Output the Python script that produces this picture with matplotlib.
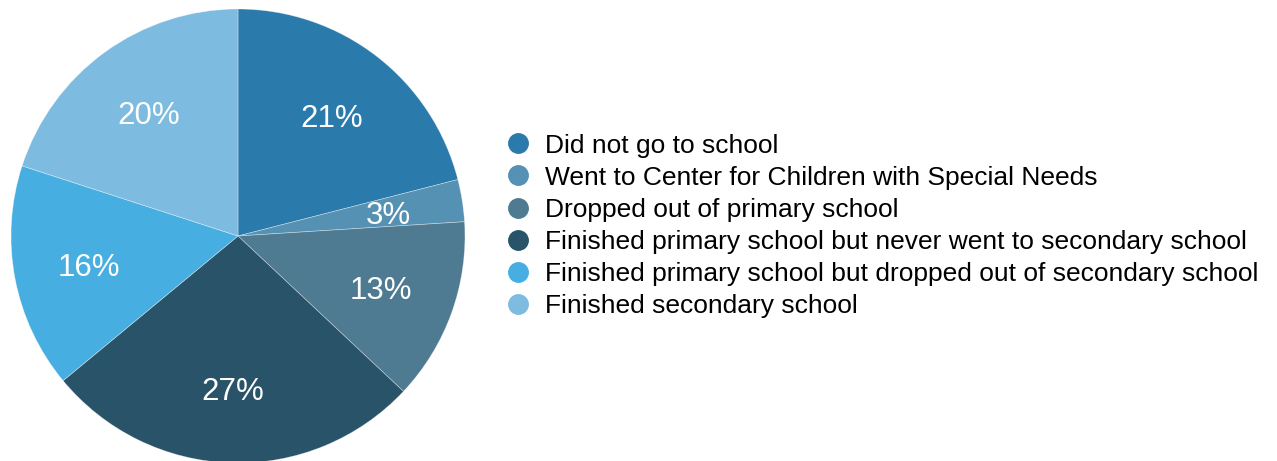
import matplotlib.pyplot as plt
from matplotlib.lines import Line2D

labels = ['Did not go to school',
          'Went to Center for Children with Special Needs',
          'Dropped out of primary school',
          'Finished primary school but never went to secondary school',
          'Finished primary school but dropped out of secondary school',
          'Finished secondary school']
shares = [21, 3, 13, 27, 16, 20]
colors = ['#2a7aab', '#5591b3', '#4e7a92', '#285369', '#46aee0', '#7dbbe0']

plt.rcParams['font.family'] = ['Liberation Sans', 'DejaVu Sans']

fig = plt.figure(figsize=(12.77, 4.61), dpi=100)
W, H = 1277, 461
cx, cy, r = 238, 236, 227
ax = fig.add_axes([(cx - r) / W, (H - cy - r) / H, 2 * r / W, 2 * r / H])

wedges, texts, autotexts = ax.pie(
    shares, colors=colors, startangle=90, counterclock=False,
    autopct='%d%%', pctdistance=0.67,
    wedgeprops=dict(edgecolor=(1, 1, 1, 0.45), linewidth=0.5),
    textprops=dict(color='white', fontsize=22.5))
for t in autotexts:
    t.set_va('center_baseline')
ax.set_xlim(-1, 1)
ax.set_ylim(-1, 1)
ax.set_aspect('equal')

handles = [Line2D([], [], marker='o', linestyle='none', markersize=14,
                  markerfacecolor=c, markeredgecolor=c) for c in colors]
leg = fig.legend(handles, labels, loc='upper left',
                 bbox_to_anchor=(494.5 / W, 1 - 123 / H),
                 frameon=False, fontsize=19, handletextpad=0.52,
                 labelspacing=0.31, borderaxespad=0, handlelength=1.0)

fig.savefig('out.png', dpi=100)
